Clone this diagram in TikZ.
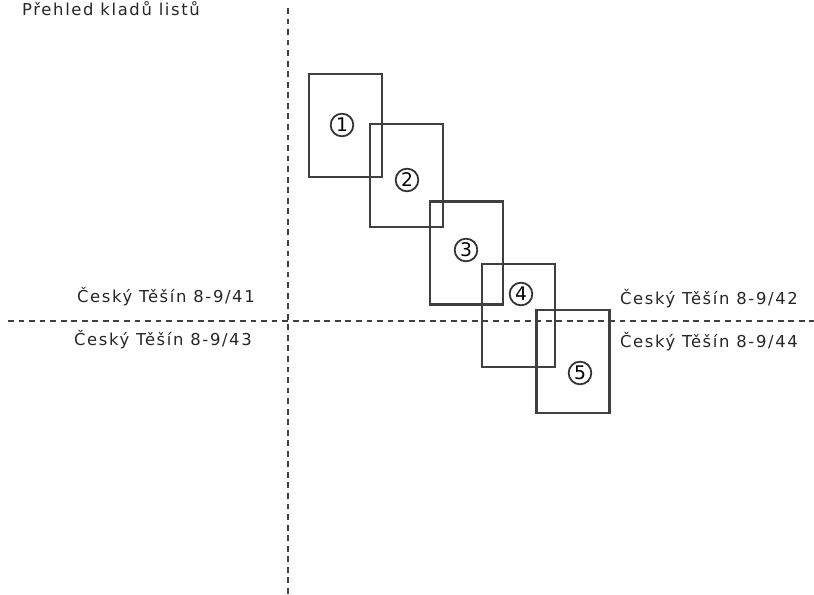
\documentclass[tikz,border=0pt]{standalone}
\usepackage{fontspec}
\setmainfont{DejaVu Sans}[LetterSpace=10]
\begin{document}
\begin{tikzpicture}[x=0.03cm,y=-0.03cm,line cap=butt,line join=miter,
  sheet/.style={draw=black!75,line width=1.8pt,minimum width=2.19cm,minimum height=3.09cm,inner sep=0pt},
  num/.style={circle,draw=black!80,line width=1.5pt,inner sep=0pt,minimum size=0.68cm,font=\fontsize{16}{16}\selectfont},
  lbl/.style={text=black!85,font=\fontsize{14}{16}\selectfont,inner sep=0pt},
  cut/.style={draw=black!75,line width=1.1pt,dash pattern=on 5pt off 4pt}]
\useasboundingbox (0,0) rectangle (814,595);
% sheet boundaries
\coordinate (top) at (288,8);
\coordinate (bot) at (288,595);
\coordinate (lft) at (8,321);
\coordinate (rgt) at (814,321);
\draw[cut] (top) -- (bot);
\draw[cut] (lft) -- (rgt);
\node[lbl,anchor=west] (title) at (22,9) {Přehled kladů listů};
\node[lbl,anchor=east] (m41) at (255,297) {Český Těšín 8-9/41};
\node[lbl,anchor=east] (m43) at (252,340) {Český Těšín 8-9/43};
\node[lbl,anchor=east] (m42) at (798,299) {Český Těšín 8-9/42};
\node[lbl,anchor=east] (m44) at (798,342) {Český Těšín 8-9/44};
% photo frames
\node[sheet] (s1) at (345.5,125.5) {};
\node[sheet] (s2) at (406.5,175.5) {};
\node[sheet] (s3) at (466.5,253) {};
\node[sheet] (s4) at (518.5,315.5) {};
\node[sheet] (s5) at (573,361.5) {};
\node[num] (n1) at (342,125) {1};
\node[num] (n2) at (407,180) {2};
\node[num] (n3) at (466,250) {3};
\node[num] (n4) at (521,294) {4};
\node[num] (n5) at (580,373) {5};
\end{tikzpicture}
\end{document}
